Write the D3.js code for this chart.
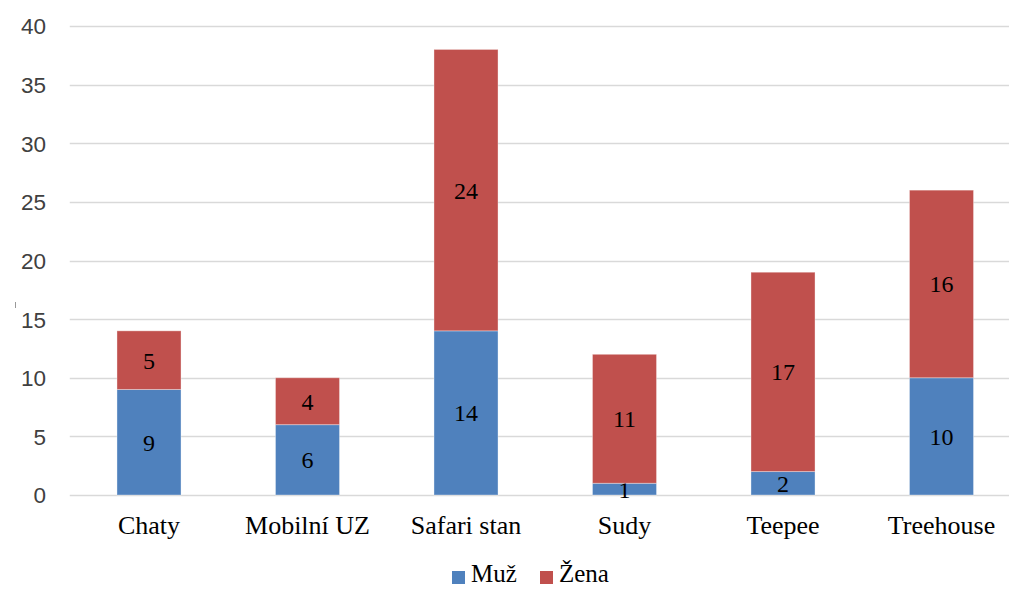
<!DOCTYPE html>
<html>
<head>
<meta charset="utf-8">
<script src="https://cdn.jsdelivr.net/npm/d3@7"></script>
<style>
  html, body { margin: 0; padding: 0; background: #fff; }
  svg { display: block; }
</style>
</head>
<body>
<svg id="chart" width="1009" height="589"></svg>
<script>
// Accommodation types and respondents by gender
const categories = ["Chaty", "Mobilní UZ", "Safari stan", "Sudy", "Teepee", "Treehouse"];
const muz = [9, 6, 14, 1, 2, 10];
const zena = [5, 4, 24, 11, 17, 16];
const seriesNames = ["Muž", "Žena"];
const seriesColors = ["#4F81BD", "#C0504D"];
const yTicks = [0, 5, 10, 15, 20, 25, 30, 35, 40];

const svg = d3.select("#chart");
const margin = { left: 69.75, right: -11.75, top: 26, bottom: 94 };
const width = 1009, height = 589;

const x = d3.scaleBand()
  .domain(categories)
  .range([margin.left, width - margin.right])
  .paddingInner(0.596)
  .paddingOuter(0.298);

const y = d3.scaleLinear()
  .domain([0, 40])
  .range([height - margin.bottom, margin.top]);

// Horizontal gridlines
svg.append("g")
  .selectAll("line")
  .data(yTicks)
  .join("line")
  .attr("x1", margin.left)
  .attr("x2", width)
  .attr("y1", d => Math.round(y(d)) + 0.5)
  .attr("y2", d => Math.round(y(d)) + 0.5)
  .attr("stroke", "#d9d9d9")
  .attr("stroke-width", 1.6);

// Y axis labels
const yAxis = d3.axisLeft(y).tickValues(yTicks).tickSize(0).tickPadding(0);
const gy = svg.append("g")
  .attr("transform", `translate(${46},0)`)
  .call(yAxis);
gy.select(".domain").remove();
gy.selectAll("text")
  .attr("font-family", "'Liberation Sans', sans-serif")
  .attr("font-size", 22.5)
  .attr("fill", "#404040")
  .attr("dy", "0.35em");

// Stack the two series
const rows = categories.map((c, i) => ({ cat: c, "Muž": muz[i], "Žena": zena[i] }));
const stacked = d3.stack().keys(seriesNames)(rows);

const layers = svg.append("g")
  .selectAll("g")
  .data(stacked)
  .join("g")
  .attr("fill", (d, i) => seriesColors[i]);

layers.selectAll("rect")
  .data(d => d)
  .join("rect")
  .attr("x", d => x(d.data.cat))
  .attr("width", x.bandwidth())
  .attr("y", d => y(d[1]))
  .attr("height", d => y(d[0]) - y(d[1]))
  .attr("stroke", "rgba(255,255,255,0.35)")
  .attr("stroke-width", 1);

// Value labels centred in each segment
layers.selectAll("text")
  .data(d => d.map(s => ({ s, key: d.key })))
  .join("text")
  .attr("x", d => x(d.s.data.cat) + x.bandwidth() / 2)
  .attr("y", d => y((d.s[0] + d.s[1]) / 2))
  .attr("dy", "0.35em")
  .attr("text-anchor", "middle")
  .attr("font-family", "'Liberation Serif', serif")
  .attr("font-size", 24)
  .attr("fill", "#000")
  .text(d => d.s.data[d.key]);

// Category labels
const xAxis = d3.axisBottom(x).tickSize(0).tickPadding(0);
const gx = svg.append("g")
  .attr("transform", `translate(0,${y(0)})`)
  .call(xAxis);
gx.select(".domain").remove();
gx.selectAll("text")
  .attr("font-family", "'Liberation Serif', serif")
  .attr("font-size", 26)
  .attr("fill", "#000")
  .attr("y", 39)
  .attr("dy", "0");

// Small vertical mark beside the axis
svg.append("line")
  .attr("x1", 15.5).attr("x2", 15.5)
  .attr("y1", 302).attr("y2", 308)
  .attr("stroke", "#999").attr("stroke-width", 1);

// Legend
const legendItems = [
  { name: seriesNames[0], color: seriesColors[0], x: 452 },
  { name: seriesNames[1], color: seriesColors[1], x: 540 }
];
const lg = svg.append("g");
legendItems.forEach(it => {
  lg.append("rect")
    .attr("x", it.x).attr("y", 571)
    .attr("width", 13).attr("height", 13)
    .attr("fill", it.color);
  lg.append("text")
    .attr("x", it.x + 19).attr("y", 582)
    .attr("font-family", "'Liberation Serif', serif")
    .attr("font-size", 25)
    .attr("fill", "#000")
    .text(it.name);
});
</script>
</body>
</html>
